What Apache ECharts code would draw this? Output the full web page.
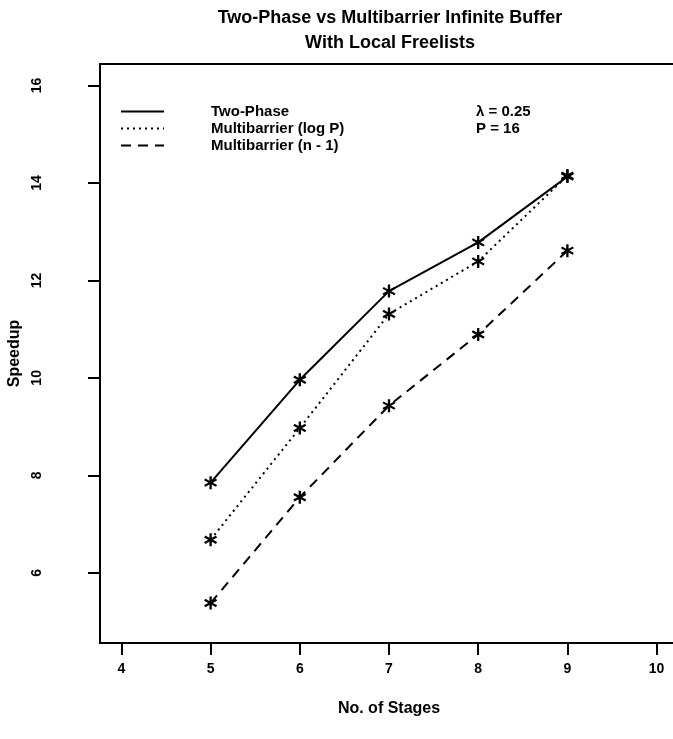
<!DOCTYPE html>
<html>
<head>
<meta charset="utf-8">
<script src="https://cdn.jsdelivr.net/npm/echarts@6/dist/echarts.min.js"></script>
<style>
  html, body { margin: 0; padding: 0; background: #fff; }
  #chart { width: 673px; height: 739px; }
</style>
</head>
<body>
<div id="chart"></div>
<script>
// data
var stages = [5, 6, 7, 8, 9];
var twoPhase = [7.85, 9.96, 11.78, 12.78, 14.13];
var logP = [6.68, 8.97, 11.31, 12.39, 14.15];
var nMinus1 = [5.38, 7.55, 9.43, 10.89, 12.61];
var xTicks = [4, 5, 6, 7, 8, 9, 10];
var yTicks = [6, 8, 10, 12, 14, 16];

// asterisk marker (three crossed bars)
var star = 'path://M8.3 0 L11.7 0 L11.7 20 L8.3 20 Z M17.81 3.53 L19.51 6.47 L2.19 16.47 L0.49 13.53 Z M19.51 13.53 L17.81 16.47 L0.49 6.47 L2.19 3.53 Z';

function pairs(ys) {
  return stages.map(function (x, i) { return [x, ys[i]]; });
}

var font = 'Liberation Sans, Arial, Helvetica, sans-serif';

function lineSeries(name, ys, type) {
  return {
    name: name,
    type: 'line',
    data: pairs(ys),
    symbol: star,
    symbolSize: 13,
    itemStyle: { color: '#000' },
    lineStyle: { color: '#000', width: 2, type: type },
    z: 3
  };
}

var chart = echarts.init(document.getElementById('chart'));
chart.setOption({
  backgroundColor: '#fff',
  animation: false,
  title: {
    text: 'Two-Phase vs Multibarrier Infinite Buffer\nWith Local Freelists',
    left: 385,
    top: 1,
    textAlign: 'center',
    textStyle: { fontFamily: font, fontSize: 18, fontWeight: 'bold', lineHeight: 25, color: '#000' }
  },
  grid: {
    left: 100, top: 64, width: 578, bottom: 96,
    outerBoundsMode: 'none',
    containLabel: false,
    show: true, borderColor: '#000', borderWidth: 2, backgroundColor: 'transparent'
  },
  legend: {
    orient: 'vertical',
    left: 120,
    top: 104,
    padding: 0,
    itemWidth: 43,
    itemHeight: 15,
    itemGap: 2,
    itemStyle: { opacity: 0 },
    textStyle: { fontFamily: font, fontSize: 15, fontWeight: 'bold', color: '#000', padding: [0, 0, 0, 42] },
    data: ['Two-Phase', 'Multibarrier (log P)', 'Multibarrier (n - 1)']
  },
  graphic: [
    { type: 'text', left: 476, top: 104, style: { text: 'λ = 0.25', font: 'bold 15px ' + font, fill: '#000' } },
    { type: 'text', left: 476, top: 121, style: { text: 'P = 16', font: 'bold 15px ' + font, fill: '#000' } }
  ],
  xAxis: {
    type: 'value',
    min: 3.76,
    max: 10.24,
    name: 'No. of Stages',
    nameLocation: 'middle',
    nameGap: 58,
    nameTextStyle: { fontFamily: font, fontSize: 16, fontWeight: 'bold', color: '#000' },
    axisLine: { show: true, lineStyle: { color: '#000', width: 2 } },
    axisTick: { show: true, length: 12, lineStyle: { color: '#000', width: 2 }, customValues: xTicks },
    axisLabel: { fontFamily: font, fontSize: 14, fontWeight: 'bold', color: '#000', margin: 19, customValues: xTicks },
    splitLine: { show: false }
  },
  yAxis: {
    type: 'value',
    min: 4.56,
    max: 16.44,
    name: 'Speedup',
    nameLocation: 'middle',
    nameRotate: 90,
    nameGap: 66,
    nameTextStyle: { fontFamily: font, fontSize: 16, fontWeight: 'bold', color: '#000' },
    axisLine: { show: true, lineStyle: { color: '#000', width: 2 } },
    axisTick: { show: true, length: 12, lineStyle: { color: '#000', width: 2 }, customValues: yTicks },
    axisLabel: { fontFamily: font, fontSize: 14, fontWeight: 'bold', color: '#000', rotate: 90, margin: 56, customValues: yTicks },
    splitLine: { show: false }
  },
  series: [
    lineSeries('Two-Phase', twoPhase, 'solid'),
    lineSeries('Multibarrier (log P)', logP, [2, 4]),
    lineSeries('Multibarrier (n - 1)', nMinus1, [10, 7])
  ]
});
</script>
</body>
</html>
